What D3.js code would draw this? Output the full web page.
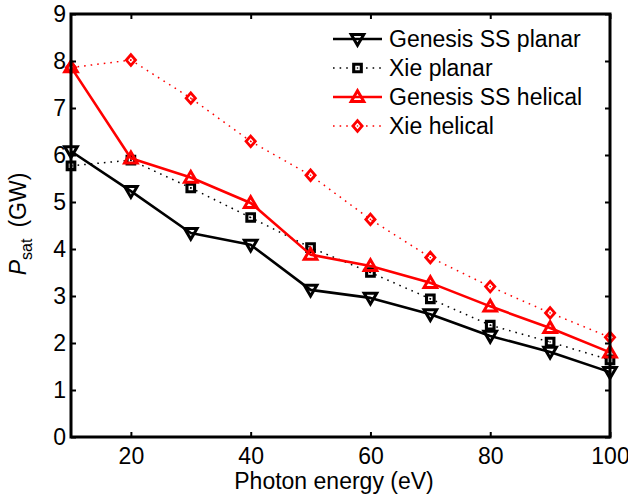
<!DOCTYPE html>
<html>
<head>
<meta charset="utf-8">
<script src="https://cdn.jsdelivr.net/npm/d3@7"></script>
<style>
  html, body { margin: 0; padding: 0; background: #fff; }
  svg { display: block; font-family: "Liberation Sans", Arial, Helvetica, sans-serif; }
</style>
</head>
<body>
<svg id="chart" width="628" height="497"></svg>
<script>
// Photon energy (eV) sample points
const energy = [10, 20, 30, 40, 50, 60, 70, 80, 90, 100];

// Saturation power (GW) for each model
const genesisPlanar  = [6.08, 5.23, 4.34, 4.09, 3.13, 2.96, 2.61, 2.15, 1.81, 1.38];
const xiePlanar      = [5.77, 5.89, 5.30, 4.67, 4.03, 3.50, 2.94, 2.38, 2.02, 1.64];
const genesisHelical = [7.87, 5.93, 5.52, 4.98, 3.88, 3.64, 3.28, 2.78, 2.32, 1.80];
const xieHelical     = [7.86, 8.02, 7.21, 6.29, 5.57, 4.63, 3.82, 3.20, 2.64, 2.12];

const seriesNames = ["Genesis SS planar", "Xie planar", "Genesis SS helical", "Xie helical"];

const xTicks = [20, 40, 60, 80, 100];
const yTicks = [0, 1, 2, 3, 4, 5, 6, 7, 8, 9];

const series = [
  { name: seriesNames[0], values: genesisPlanar,  color: "#000", dotted: false, marker: "down" },
  { name: seriesNames[1], values: xiePlanar,      color: "#000", dotted: true,  marker: "square" },
  { name: seriesNames[2], values: genesisHelical, color: "#f00", dotted: false, marker: "up" },
  { name: seriesNames[3], values: xieHelical,     color: "#f00", dotted: true,  marker: "diamond" }
];

const svg = d3.select("#chart");
const L = 71, R = 610, T = 14, B = 437;
const FONT = 23;

const x = d3.scaleLinear().domain([10, 100]).range([L, R]);
const y = d3.scaleLinear().domain([0, 9]).range([B, T]);

// Marker outlines centred at the origin, with their stroke widths
const markerShapes = {
  down:    { d: "M-6.3,-4.6 L6.3,-4.6 L0,6.2 Z", w: 3.0 },
  up:      { d: "M-6.3,4.6 L6.3,4.6 L0,-6.2 Z",  w: 3.0 },
  square:  { d: "M-3.8,-3.8 L3.8,-3.8 L3.8,3.8 L-3.8,3.8 Z", w: 3.1 },
  diamond: { d: "M0,-5.3 L4.6,0 L0,5.3 L-4.6,0 Z", w: 2.8 }
};

function drawMarker(g, type, color, cx, cy) {
  const m = markerShapes[type];
  g.append("path")
    .attr("d", m.d)
    .attr("transform", `translate(${cx},${cy})`)
    .attr("fill", "none")
    .attr("stroke", color)
    .attr("stroke-width", m.w)
    .attr("stroke-linejoin", "miter");
  g.append("circle")
    .attr("cx", cx).attr("cy", cy).attr("r", 0.8)
    .attr("fill", color);
}

const line = d3.line()
  .x((d, i) => x(energy[i]))
  .y(d => y(d));

// Series lines and markers
const plot = svg.append("g");
series.forEach(s => {
  const g = plot.append("g");
  g.append("path")
    .datum(s.values)
    .attr("d", line)
    .attr("fill", "none")
    .attr("stroke", s.color)
    .attr("stroke-width", s.dotted ? 1.5 : 2.6)
    .attr("stroke-dasharray", s.dotted ? "1.6,5" : null)
    .attr("stroke-linejoin", "round");
  s.values.forEach((v, i) => drawMarker(g, s.marker, s.color, x(energy[i]), y(v)));
});

// Axes: bottom/left with labels, top/right mirrored ticks only (all ticks point inward)
const tickLen = 5;
const xAxis = d3.axisBottom(x).tickValues(xTicks).tickSize(-tickLen).tickPadding(11).tickFormat(d3.format("d"));
const xAxisTop = d3.axisTop(x).tickValues(xTicks).tickSize(-tickLen).tickFormat("");
const yAxis = d3.axisLeft(y).tickValues(yTicks).tickSize(-tickLen).tickPadding(5).tickFormat(d3.format("d"));
const yAxisRight = d3.axisRight(y).tickValues(yTicks).tickSize(-tickLen).tickFormat("");

function styleAxis(g) {
  g.select(".domain").remove();
  g.selectAll(".tick line").attr("stroke", "#000").attr("stroke-width", 2);
  g.selectAll(".tick text").attr("fill", "#000").attr("font-size", FONT)
    .attr("font-family", "'Liberation Sans', Arial, Helvetica, sans-serif");
}

svg.append("g").attr("transform", `translate(0,${B})`).call(xAxis).call(styleAxis);
svg.append("g").attr("transform", `translate(0,${T})`).call(xAxisTop).call(styleAxis);
svg.append("g").attr("transform", `translate(${L},0)`).call(yAxis).call(styleAxis);
svg.append("g").attr("transform", `translate(${R},0)`).call(yAxisRight).call(styleAxis);

// Plot frame
svg.append("rect")
  .attr("x", L).attr("y", T).attr("width", R - L).attr("height", B - T)
  .attr("fill", "none").attr("stroke", "#000").attr("stroke-width", 3);

// Axis titles
svg.append("text")
  .attr("x", 334).attr("y", 489)
  .attr("text-anchor", "middle")
  .attr("font-size", FONT)
  .text("Photon energy (eV)");

const yTitle = svg.append("text")
  .attr("transform", "translate(26,224) rotate(-90)")
  .attr("text-anchor", "middle")
  .attr("font-size", FONT);
yTitle.append("tspan").attr("font-style", "italic").text("P");
yTitle.append("tspan").attr("font-size", 16).attr("dy", 6).text("sat");
yTitle.append("tspan").attr("dy", -6).text("\u2009 (GW)");

// Legend
const legend = svg.append("g");
const lx0 = 333, lx1 = 382, ltx = 389, ly0 = 39, lstep = 29;
series.forEach((s, i) => {
  const ly = ly0 + i * lstep;
  const g = legend.append("g");
  g.append("line")
    .attr("x1", lx0).attr("x2", lx1).attr("y1", ly).attr("y2", ly)
    .attr("stroke", s.color)
    .attr("stroke-width", s.dotted ? 1.5 : 2.6)
    .attr("stroke-dasharray", s.dotted ? "1.6,5" : null);
  if (s.dotted) {
    // clear a gap around the marker, as the dotted pattern stops short of it
    g.append("rect").attr("x", lx0 + 17).attr("y", ly - 3).attr("width", 15).attr("height", 6).attr("fill", "#fff");
  }
  drawMarker(g, s.marker, s.color, (lx0 + lx1) / 2, ly);
  g.append("text")
    .attr("x", ltx).attr("y", ly)
    .attr("dy", "0.35em")
    .attr("font-size", FONT)
    .text(s.name);
});
</script>
</body>
</html>
